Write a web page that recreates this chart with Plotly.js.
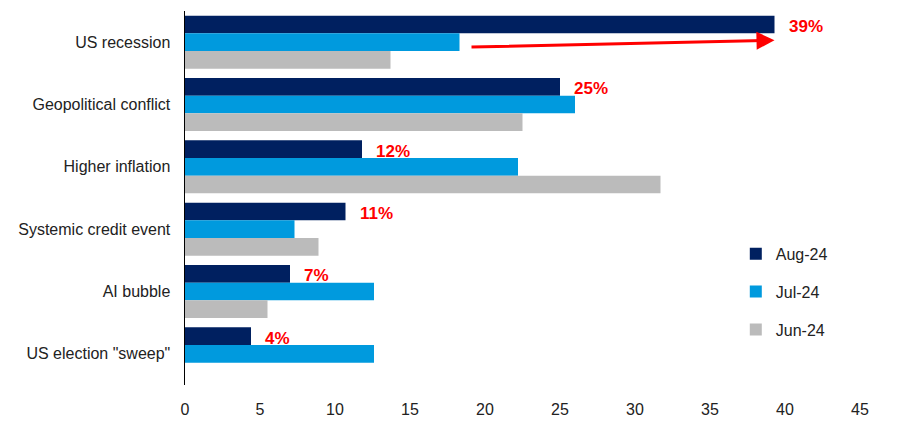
<!DOCTYPE html>
<html><head><meta charset="utf-8">
<script src="https://cdn.plot.ly/plotly-3.0.1.min.js"></script>
<style>html,body{margin:0;padding:0;background:#fff}#chart{width:900px;height:439px}</style>
</head><body><div id="chart"></div>
<script>
const categories = ["US recession", "Geopolitical conflict", "Higher inflation", "Systemic credit event", "AI bubble", "US election \"sweep\""];
const aug24 = [39.3, 25.0, 11.8, 10.7, 7.0, 4.4];
const jul24 = [18.3, 26.0, 22.2, 7.3, 12.6, 12.6];
const jun24 = [13.7, 22.5, 31.7, 8.9, 5.5, 0];
const augLabels = ["39%", "25%", "12%", "11%", "7%", "4%"];
const xTicks = [0, 5, 10, 15, 20, 25, 30, 35, 40, 45];

const font = "Liberation Sans, Arial, sans-serif";
const bargap = 0.15;
const barW = (1 - bargap) / 3;

const mk = (name, vals, color, grp) => ({
  type: "bar", orientation: "h", name: name, x: vals, y: categories,
  marker: {color: color, line: {width: 0}}, legendgroup: grp, hoverinfo: "x"
});
const data = [
  mk("Aug-24", aug24, "#002060", "a"),
  mk("Jul-24", jul24, "#009ADE", "b"),
  mk("Jun-24", jun24, "#BBBBBB", "c")
];

const annotations = augLabels.map((t, i) => ({
  x: aug24[i], y: i - barW, xref: "x", yref: "y", text: "<b>" + t + "</b>",
  showarrow: false, xanchor: "left", yanchor: "middle", xshift: 12, yshift: -2,
  font: {family: "Liberation Sans Narrow, Arial Narrow, Liberation Sans, sans-serif", size: 17, color: "#FF0000"}
}));
annotations.push({
  x: aug24[0], y: -0.03, xref: "x", yref: "y",
  ax: jul24[0] + 0.7, ay: 0.08, axref: "x", ayref: "y",
  text: "", showarrow: true, arrowhead: 2, arrowsize: 1.2, arrowwidth: 3, arrowcolor: "#FF0000"
});

const layout = {
  width: 900, height: 439,
  margin: {l: 185, r: 40, t: 11, b: 54},
  paper_bgcolor: "#fff", plot_bgcolor: "#fff",
  barmode: "group", bargap: bargap, bargroupgap: 0,
  font: {family: font, size: 16, color: "#222"},
  xaxis: {range: [0, 45], tickvals: xTicks, showgrid: false, zeroline: false,
          showline: false, ticks: "", ticklabelstandoff: 13, tickfont: {size: 16}},
  yaxis: {autorange: "reversed", showgrid: false, zeroline: false, showline: true,
          linecolor: "#000", linewidth: 1.5, ticks: "", ticklabelstandoff: 10, tickfont: {size: 16}},
  showlegend: true,
  legend: {x: 0.816, y: 0.396, xanchor: "left", yanchor: "top", traceorder: "grouped",
           tracegroupgap: 14, font: {size: 16, color: "#222"}, bgcolor: "rgba(0,0,0,0)"},
  annotations: annotations
};
Plotly.newPlot("chart", data, layout, {displayModeBar: false, staticPlot: true});
</script></body></html>
